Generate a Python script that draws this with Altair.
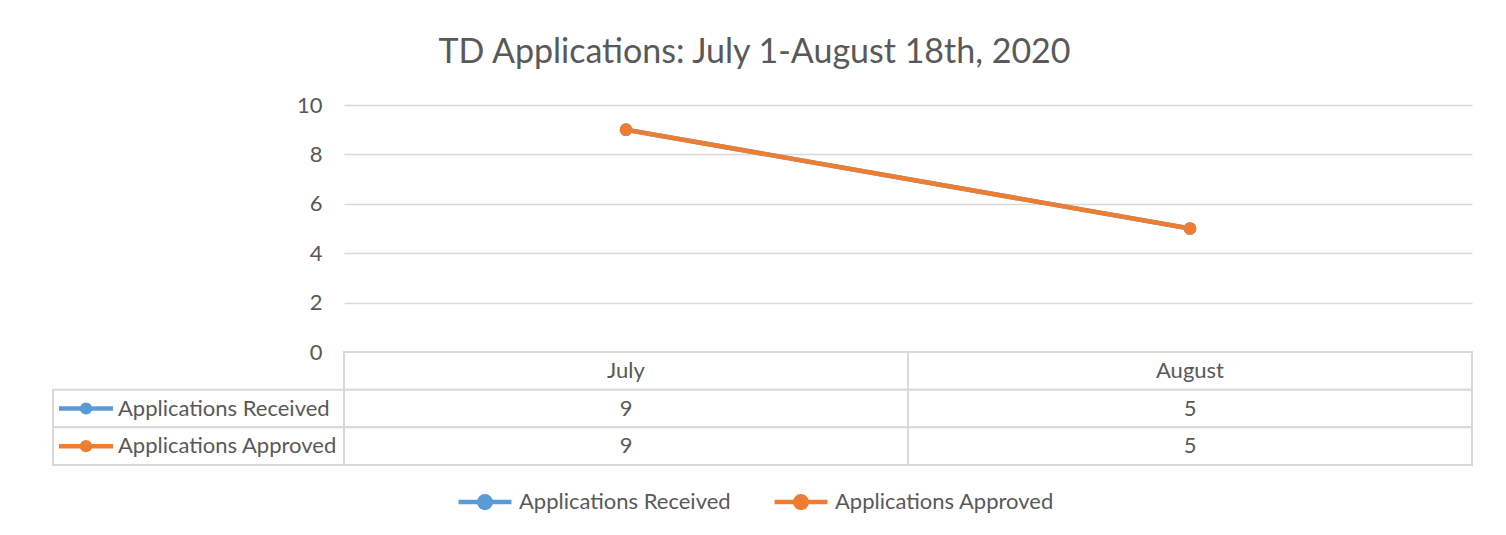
import altair as alt
import pandas as pd

# ---- data ----
months = ["July", "August"]
series = ["Applications Received", "Applications Approved"]
received = [9, 5]
approved = [9, 5]
colors = ["#5B9BD5", "#ED7D31"]
y_ticks = [0, 2, 4, 6, 8, 10]
title_text = "TD Applications: July 1-August 18th, 2020"

FONT = "Lato"
TXT = "#595959"
GRID = "#D9D9D9"
FS = 22

rows = []
for s, vals in zip(series, [received, approved]):
    for m, v in zip(months, vals):
        rows.append({"series": s, "month": m, "value": v})
df = pd.DataFrame(rows)

color_scale = alt.Scale(domain=series, range=colors)
row_domain = ["", series[0], series[1]]

PLOT_W = 1128
PLOT_H = 247
LABEL_W = 291
ROW_H = 113

# legend symbol: line with a dot
sym_path = "M-1,0L1,0 M0.22,0A0.22,0.22 0 1,1 -0.22,0A0.22,0.22 0 1,1 0.22,0Z"

# ---- top: line chart ----
x_pt = alt.X("month:N", sort=months, axis=None,
             scale=alt.Scale(type="point", domain=months, padding=0.5))
y_q = alt.Y("value:Q", scale=alt.Scale(domain=[0, 10], nice=False),
            axis=alt.Axis(values=y_ticks, title=None, domain=False, ticks=False,
                          grid=True, gridColor=GRID, gridWidth=1.5,
                          labelFont=FONT, labelFontSize=FS, labelColor=TXT,
                          labelPadding=22))

base = alt.Chart(df)
lines = base.mark_line(strokeWidth=4.5).encode(
    x=x_pt, y=y_q,
    color=alt.Color("series:N", scale=color_scale, sort=series,
                    legend=alt.Legend(title=None, orient="none", direction="horizontal",
                                      legendX=403, legendY=368,
                                      symbolType=sym_path, symbolSize=2800,
                                      symbolStrokeWidth=4.5, symbolFillColor=None,
                                      labelFont=FONT, labelFontSize=FS, labelColor=TXT,
                                      labelLimit=0, labelOffset=5, columnPadding=34)),
)
points = base.mark_circle(size=160, opacity=1).encode(
    x=x_pt, y="value:Q",
    color=alt.Color("series:N", scale=color_scale, sort=series, legend=None),
)
line_chart = alt.layer(lines, points).properties(width=PLOT_W, height=PLOT_H)

spacer = alt.Chart(pd.DataFrame({"a": [0]})).mark_point(opacity=0).encode(
    x=alt.X("a:Q", axis=None), y=alt.Y("a:Q", axis=None)
).properties(width=LABEL_W, height=PLOT_H)

# ---- bottom: data table ----
cells = []
for m in months:
    cells.append({"row": "", "month": m, "text": m})
for s, vals in zip(series, [received, approved]):
    for m, v in zip(months, vals):
        cells.append({"row": s, "month": m, "text": str(v)})
cells_df = pd.DataFrame(cells)

x_band = alt.X("month:N", sort=months, axis=None,
               scale=alt.Scale(domain=months, paddingInner=0, paddingOuter=0))
y_band = alt.Y("row:N", sort=row_domain, axis=None,
               scale=alt.Scale(domain=row_domain, paddingInner=0, paddingOuter=0))

tbl = alt.Chart(cells_df)
cell_rects = tbl.mark_rect(fill="white", stroke=GRID, strokeWidth=2).encode(x=x_band, y=y_band)
cell_text = tbl.mark_text(font=FONT, fontSize=FS, color=TXT).encode(
    x=x_band, y=y_band, text="text:N")
table = alt.layer(cell_rects, cell_text).properties(width=PLOT_W, height=ROW_H)

lab_df = pd.DataFrame({"row": series, "series": series})
y_band2 = alt.Y("row:N", sort=row_domain, axis=None,
                scale=alt.Scale(domain=row_domain, paddingInner=0, paddingOuter=0))
lab = alt.Chart(lab_df)
lab_rects = lab.mark_rect(fill="white", stroke=GRID, strokeWidth=2).encode(
    y=y_band2, x=alt.value(0), x2=alt.value(LABEL_W))
lab_sym_line = lab.mark_rule(strokeWidth=4.5).encode(
    y=y_band2, x=alt.value(6), x2=alt.value(60),
    color=alt.Color("series:N", scale=color_scale, legend=None))
lab_sym_dot = lab.mark_circle(size=150, opacity=1).encode(
    y=y_band2, x=alt.value(33),
    color=alt.Color("series:N", scale=color_scale, legend=None))
lab_text = lab.mark_text(font=FONT, fontSize=FS, color=TXT, align="left").encode(
    y=y_band2, x=alt.value(65), text="series:N")
labels = alt.layer(lab_rects, lab_sym_line, lab_sym_dot, lab_text).properties(
    width=LABEL_W, height=ROW_H)

chart = alt.concat(spacer, line_chart, labels, table, columns=2, spacing=0,
                   bounds="flush").properties(
    title=alt.TitleParams(title_text, font=FONT, fontSize=34, fontWeight="normal",
                          color=TXT, anchor="middle", offset=24, dx=-8),
    padding={"left": 44, "top": 28, "right": 20, "bottom": 10},
).resolve_scale(color="shared").configure_view(stroke=None)

chart.save("out.html", embed_options={"renderer": "svg", "actions": False})
